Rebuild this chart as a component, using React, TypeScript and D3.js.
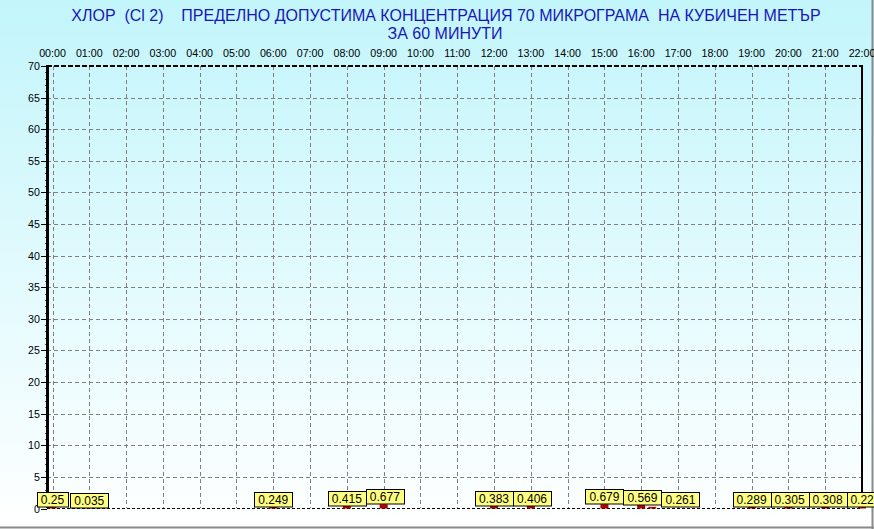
import React from 'react';
import * as d3 from 'd3';

const hours = [0, 1, 6, 8, 9, 12, 13, 15, 16, 16.3, 19, 20, 21, 22];
const values = [0.25, 0.035, 0.249, 0.415, 0.677, 0.383, 0.406, 0.679, 0.569, 0.261, 0.289, 0.305, 0.308, 0.22];
const labels = ['0.25', '0.035', '0.249', '0.415', '0.677', '0.383', '0.406', '0.679', '0.569', '0.261', '0.289', '0.305', '0.308', '0.22'];

const hourTicks = d3.range(0, 23);
const yTicks = d3.range(0, 75, 5);

const titleLine1 = 'ХЛОР  (Cl 2)    ПРЕДЕЛНО ДОПУСТИМА КОНЦЕНТРАЦИЯ 70 МИКРОГРАМА  НА КУБИЧЕН МЕТЪР';
const titleLine2 = 'ЗА 60 МИНУТИ';

const W = 874;
const H = 529;
const font = '"Liberation Sans", Arial, sans-serif';

function App() {
  const x = d3.scaleLinear().domain([0, 22]).range([52.5, 862]);
  const y = d3.scaleLinear().domain([0, 70]).range([508.5, 66]);

  const pad = (h: number) => (h < 10 ? '0' + h : '' + h);

  // label boxes: centred on the point, pushed right when they would overlap
  let prevRight = -Infinity;
  const boxes = hours.map((h, i) => {
    const txt = labels[i];
    const tw = txt.split('').reduce((s, c) => s + (c === '.' ? 3.34 : 6.67), 0);
    const w = Math.round(tw + 8);
    let left = x(h) - w / 2;
    if (left < prevRight) left = prevRight;
    prevRight = left + w;
    const bottom = Math.min(y(values[i]), 508.5);
    return { left, w, bottom, txt };
  });

  const minor = d3.range(0, 71, 1).filter(v => v % 5 !== 0);

  return (
    <>
      <style>{'body{margin:0}'}</style>
      <svg width={W} height={H} style={{ display: 'block' }} fontFamily={font}>
        <defs>
          <linearGradient id="bg" x1="0" y1="0" x2="0" y2="1">
            <stop offset="0%" stopColor="#c2f5fb" />
            <stop offset="100%" stopColor="#ffffff" />
          </linearGradient>
        </defs>
        <rect x={0} y={0} width={W} height={H} fill="url(#bg)" />
        {/* panel border */}
        <line x1={0} x2={W} y1={527.5} y2={527.5} stroke="#8a8a8a" strokeWidth={2} />
        <line x1={872.5} x2={872.5} y1={0} y2={H} stroke="#8a8a8a" strokeWidth={2} />

        {/* title */}
        <text x={446} y={21} textAnchor="middle" fontSize={16} fill="#1818b8" style={{ whiteSpace: 'pre' }}>{titleLine1}</text>
        <text x={445} y={39} textAnchor="middle" fontSize={16} fill="#1818b8">{titleLine2}</text>

        {/* grid */}
        {yTicks.filter(v => v > 0 && v < 70).map(v => (
          <line key={'gy' + v} x1={47} x2={862} y1={Math.round(y(v)) + 0.5} y2={Math.round(y(v)) + 0.5}
            stroke="#808080" strokeDasharray="4,3" />
        ))}
        {hourTicks.filter(h => h < 22).map(h => (
          <line key={'gx' + h} x1={Math.round(x(h)) + 0.5} x2={Math.round(x(h)) + 0.5} y1={66} y2={508}
            stroke="#808080" strokeDasharray="4,3" />
        ))}

        {/* frame */}
        <line x1={47} x2={862} y1={66} y2={66} stroke="#000" strokeWidth={2} strokeDasharray="5,2" />
        <line x1={47} x2={862} y1={508.5} y2={508.5} stroke="#000" strokeWidth={1} strokeDasharray="3,2" />
        <line x1={862} x2={862} y1={65} y2={508} stroke="#000" strokeWidth={2} />

        {/* hour labels */}
        {hourTicks.map(h => (
          <text key={'hl' + h} x={x(h)} y={56.5} textAnchor="middle" fontSize={10.7} fill="#000">
            {pad(h) + ':00'}
          </text>
        ))}

        {/* y axis */}
        {yTicks.map(v => (
          <g key={'yt' + v}>
            <line x1={41} x2={47} y1={Math.round(y(v)) + 0.5} y2={Math.round(y(v)) + 0.5} stroke="#000" />
            <text x={40} y={y(v) + 4} textAnchor="end" fontSize={10.7} fill="#000">{v}</text>
          </g>
        ))}
        {minor.map(v => (
          <line key={'mt' + v} x1={45} x2={47} y1={Math.round(y(v)) + 0.5} y2={Math.round(y(v)) + 0.5} stroke="#555" />
        ))}
        <line x1={47.5} x2={47.5} y1={65} y2={508} stroke="#000" strokeWidth={3} />

        {/* bars */}
        {hours.map((h, i) => (
          <rect key={'b' + i} x={x(h) - 4} y={y(values[i])} width={8} height={y(0) - y(values[i])} fill="#b40000" />
        ))}

        {/* value labels */}
        {boxes.map((b, i) => (
          <g key={'lb' + i}>
            <rect x={Math.round(b.left) + 0.5} y={Math.round(b.bottom - 15) + 0.5} width={b.w} height={14.5}
              fill="#ffff80" stroke="#000" />
            <text x={b.left + b.w / 2} y={b.bottom - 3} textAnchor="middle" fontSize={12} fill="#000">{b.txt}</text>
          </g>
        ))}
      </svg>
    </>
  );
}

export default App;
